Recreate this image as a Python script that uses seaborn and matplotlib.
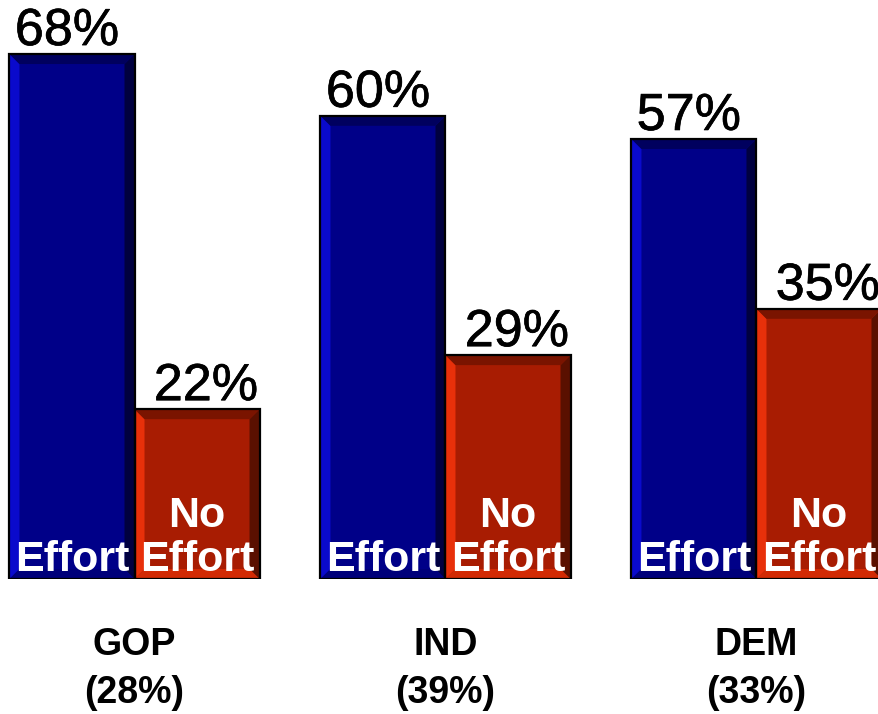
import matplotlib
matplotlib.use("Agg")
import matplotlib.pyplot as plt
import matplotlib.patheffects as pe
from matplotlib.transforms import offset_copy
import seaborn as sns
import pandas as pd
from matplotlib.patches import Polygon

groups = ["GOP", "IND", "DEM"]
group_shares = ["(28%)", "(39%)", "(33%)"]
series = ["Effort", "No Effort"]
effort = [68, 60, 57]
no_effort = [22, 29, 35]
series_labels = ["Effort", "No\nEffort"]

rows = []
for g, e, n in zip(groups, effort, no_effort):
    rows.append({"group": g, "series": series[0], "value": e})
    rows.append({"group": g, "series": series[1], "value": n})
df = pd.DataFrame(rows)

sns.set_theme(style="white")
plt.rcParams["font.family"] = ["Liberation Sans", "DejaVu Sans"]

W, H = 879, 714
fig = plt.figure(figsize=(W / 100, H / 100), dpi=100)
ax = fig.add_axes([0, 1 - 579 / H, 1, 579 / H])

main_cols = {"Effort": "#000088", "No Effort": "#A81C02"}
sns.barplot(data=df, x="group", y="value", hue="series", hue_order=series,
            palette=main_cols, width=0.804, dodge=True, ax=ax, legend=False,
            edgecolor="none", saturation=1)

ax.set_xlim(-0.4325, 2.394)
ax.set_ylim(0, 75)
ax.axis("off")

fig.canvas.draw()
p0 = ax.transData.transform((0, 0))
p1 = ax.transData.transform((1, 1))
pxx = p1[0] - p0[0]
pxy = p1[1] - p0[1]
b = 10.0
bx, by = b / pxx, b / pxy

bevels = {
    "Effort": dict(left="#0A0ACC", top="#00005E", right="#000040", bottom="#00007A"),
    "No Effort": dict(left="#E8300A", top="#7A1400", right="#5A1000", bottom="#D22A04"),
}
label_dx = {"Effort": -5, "No Effort": 9}  # pixel offsets of value labels

stroke = [pe.withStroke(linewidth=0.5, foreground="black")]

bars = list(ax.patches)
for p in bars:
    x, y, w, h = p.get_x(), p.get_y(), p.get_width(), p.get_height()
    s = series[0] if abs((x + w) - round(x + w)) < 1e-6 else series[1]
    cols = bevels[s]
    x0, x1, y0, y1 = x, x + w, y, y + h
    polys = [
        ([(x0, y0), (x0 + bx, y0 + by), (x0 + bx, y1 - by), (x0, y1)], cols["left"]),
        ([(x1, y0), (x1 - bx, y0 + by), (x1 - bx, y1 - by), (x1, y1)], cols["right"]),
        ([(x0, y1), (x0 + bx, y1 - by), (x1 - bx, y1 - by), (x1, y1)], cols["top"]),
        ([(x0, y0), (x0 + bx, y0 + by), (x1 - bx, y0 + by), (x1, y0)], cols["bottom"]),
    ]
    for pts, c in polys:
        ax.add_patch(Polygon(pts, closed=True, facecolor=c, edgecolor="none", zorder=3))
    ax.add_patch(plt.Rectangle((x0, y0), w, h, fill=False, edgecolor="black",
                               linewidth=1.6, zorder=4))
    # value label
    tr = offset_copy(ax.transData, fig=fig, x=label_dx[s], y=9, units="dots")
    ax.text(x + w / 2, y1, f"{int(round(h))}%", ha="center", va="baseline",
            fontsize=37.5, color="black", zorder=5, transform=tr,
            path_effects=stroke)
    # series label inside bar (bottom line first)
    lines = series_labels[series.index(s)].split("\n")[::-1]
    for k, line in enumerate(lines):
        trl = offset_copy(ax.transData, fig=fig, x=0, y=8 + 44 * k, units="dots")
        ax.text(x + w / 2, 0, line, ha="center", va="baseline", fontsize=31,
                fontweight="bold", color="white", zorder=5, transform=trl)

for i, (g, sh) in enumerate(zip(groups, group_shares)):
    cx = ax.transData.transform((i, 0))[0] / W
    fig.text(cx, 1 - 655 / H, g, ha="center", va="baseline", fontsize=27,
             fontweight="bold", color="black")
    fig.text(cx, 1 - 703 / H, sh, ha="center", va="baseline", fontsize=27,
             fontweight="bold", color="black")

fig.savefig("out.png", dpi=100)
